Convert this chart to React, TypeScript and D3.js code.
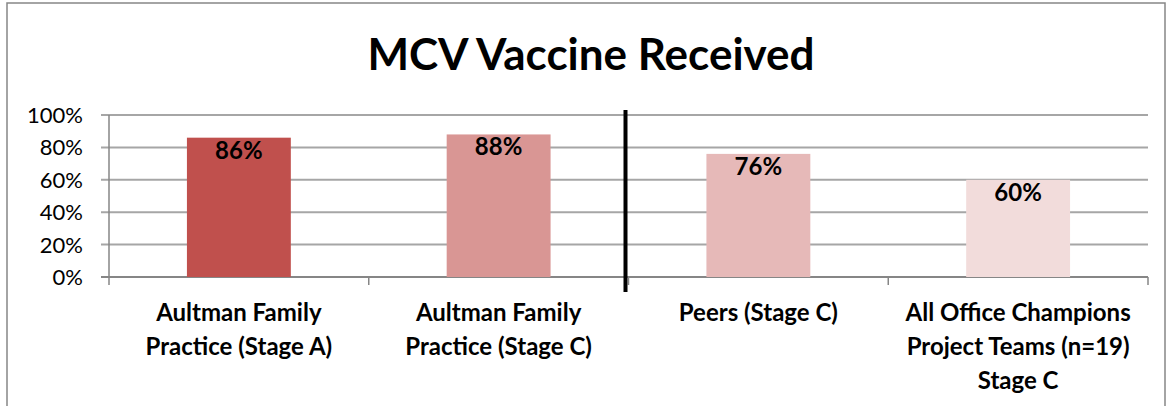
import React from "react";
import * as d3 from "d3";

const categories: string[][] = [
  ["Aultman Family", "Practice (Stage A)"],
  ["Aultman Family", "Practice (Stage C)"],
  ["Peers (Stage C)"],
  ["All Office Champions", "Project Teams (n=19)", "Stage C"],
];
const values = [0.86, 0.88, 0.76, 0.6];
const barColors = ["#C0504D", "#D99694", "#E6B9B8", "#F2DCDB"];
const yTicks = [0, 0.2, 0.4, 0.6, 0.8, 1];
const title = "MCV Vaccine Received";

const font = "Lato, 'Open Sans', sans-serif";

export default function App() {
  const width = 1168;
  const height = 406;
  const margin = { left: 109, right: 20, top: 115, bottom: 129 };

  const x = d3
    .scaleBand<number>()
    .domain(categories.map((_, i) => i))
    .range([margin.left, width - margin.right])
    .padding(0);

  const y = d3
    .scaleLinear()
    .domain([0, 1])
    .range([height - margin.bottom, margin.top]);

  const bw = x.bandwidth() * 0.4;
  const fmt = d3.format(".0%");
  const x0 = margin.left;
  const x1 = width - margin.right;
  const divX = (x(2) as number) - 3;

  return (
    <svg
      width={width}
      height={height}
      style={{ position: "absolute", left: 0, top: 0, background: "#fff" }}
      fontFamily={font}
    >
      <rect x={7} y={3} width={1158} height={430} fill="#fff" stroke="#868686" strokeWidth={1.5} />
      <text x={591} y={70} textAnchor="middle" fontSize={44} fontWeight="bold" fill="#000">
        {title}
      </text>

      {/* gridlines + y labels */}
      {yTicks.map((t) => (
        <g key={t}>
          <line x1={x0 - 8} x2={x1} y1={y(t)} y2={y(t)} stroke={t === 0 ? "#868686" : "#A6A6A6"} strokeWidth={2} />
          <text x={83} y={y(t)} dy="0.36em" textAnchor="end" fontSize={22} fill="#000">
            {fmt(t)}
          </text>
        </g>
      ))}
      <line x1={x0} x2={x0} y1={y(1)} y2={y(0) + 8} stroke="#868686" strokeWidth={1.5} />

      {/* category ticks */}
      {categories.map((_, i) => {
        const bx = (x(i) as number) + x.bandwidth();
        return <line key={i} x1={bx} x2={bx} y1={y(0)} y2={y(0) + 8} stroke="#868686" strokeWidth={1.5} />;
      })}

      {/* bars */}
      {values.map((v, i) => {
        const cx = (x(i) as number) + x.bandwidth() / 2;
        return (
          <g key={i}>
            <rect x={cx - bw / 2} y={y(v)} width={bw} height={y(0) - y(v)} fill={barColors[i]} />
            <text x={cx} y={y(v) + 21} textAnchor="middle" fontSize={24} fontWeight="bold" fill="#000">
              {fmt(v)}
            </text>
          </g>
        );
      })}

      {/* category labels */}
      {categories.map((lines, i) => {
        const cx = (x(i) as number) + x.bandwidth() / 2;
        return (
          <text key={i} textAnchor="middle" fontSize={24} fontWeight="bold" fill="#000">
            {lines.map((l, j) => (
              <tspan key={j} x={cx} y={y(0) + 44 + j * 34}>
                {l}
              </tspan>
            ))}
          </text>
        );
      })}

      {/* divider between own practice and comparison groups */}
      <line x1={divX} x2={divX} y1={y(1) - 5} y2={y(0) + 15} stroke="#000" strokeWidth={4} />
    </svg>
  );
}
